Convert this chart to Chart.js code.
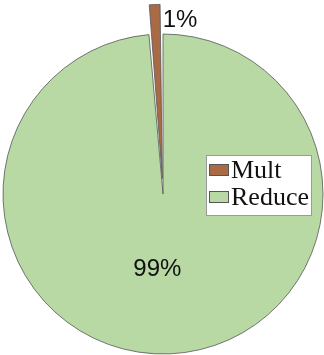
<!DOCTYPE html>
<html>
<head>
<meta charset="utf-8">
<script src="https://cdn.jsdelivr.net/npm/chart.js@4/dist/chart.umd.min.js"></script>
<style>
  html, body { margin: 0; padding: 0; background: #fff; }
  canvas { display: block; }
</style>
</head>
<body>
<canvas id="pie" width="324" height="355"></canvas>
<script>
const categories = ['Mult', 'Reduce'];
const shares = [1.4, 98.6];
const colors = ['#a86b45', '#b8d8a4'];
const explode = [62, 0];

const total = shares.reduce((a, b) => a + b, 0);

// percent labels, placed along each slice's bisector
const pctLabels = {
  id: 'pctLabels',
  afterDatasetsDraw(chart) {
    const ctx = chart.ctx;
    const arcs = chart.getDatasetMeta(0).data;
    ctx.save();
    ctx.font = '24px "Liberation Sans", Arial, sans-serif';
    ctx.fillStyle = '#111';
    ctx.textBaseline = 'middle';
    arcs.forEach((arc, i) => {
      const mid = (arc.startAngle + arc.endAngle) / 2;
      const txt = Math.round(shares[i] / total * 100) + '%';
      if (explode[i] > 0) {
        const r = arc.outerRadius + explode[i] * 0.48;
        const x = arc.x + Math.cos(mid) * r;
        const y = arc.y + Math.sin(mid) * r;
        ctx.textAlign = 'left';
        ctx.fillText(txt, x + 8, y + 16);
      } else {
        const r = arc.outerRadius * 0.47;
        ctx.textAlign = 'center';
        ctx.fillText(txt, arc.x + Math.cos(mid) * r - 9, arc.y + Math.sin(mid) * r);
      }
    });
    ctx.restore();
  }
};

// boxed legend at the right middle, like the original
const boxLegend = {
  id: 'boxLegend',
  afterDraw(chart) {
    const ctx = chart.ctx;
    const left = 206, top = 155, w = 106, rowH = 27;
    const h = categories.length * rowH + 7;
    ctx.save();
    ctx.fillStyle = '#fff';
    ctx.fillRect(left, top, w, h);
    ctx.strokeStyle = '#9a9a9a';
    ctx.lineWidth = 1;
    ctx.strokeRect(left + 0.5, top + 0.5, w - 1, h - 1);
    ctx.font = '26px "Liberation Serif", "Times New Roman", serif';
    ctx.textBaseline = 'alphabetic';
    ctx.textAlign = 'left';
    categories.forEach((c, i) => {
      const cy = top + 15 + i * rowH;
      ctx.fillStyle = colors[i];
      ctx.fillRect(left + 3, cy - 6, 20, 12);
      ctx.strokeStyle = '#555';
      ctx.strokeRect(left + 3.5, cy - 5.5, 19, 11);
      ctx.fillStyle = '#111';
      ctx.fillText(c, left + 25, cy + 8);
    });
    ctx.restore();
  }
};

new Chart(document.getElementById('pie'), {
  type: 'pie',
  data: {
    labels: categories,
    datasets: [{
      data: shares,
      backgroundColor: colors,
      borderColor: '#555',
      borderWidth: 0.8,
      offset: explode,
      hoverOffset: 0,
      radius: 160
    }]
  },
  options: {
    responsive: false,
    animation: false,
    rotation: -360 * shares[0] / total,
    layout: { padding: { top: 33, left: 2, right: 0, bottom: 0 } },
    plugins: {
      legend: { display: false },
      tooltip: { enabled: false }
    }
  },
  plugins: [pctLabels, boxLegend]
});
</script>
</body>
</html>
